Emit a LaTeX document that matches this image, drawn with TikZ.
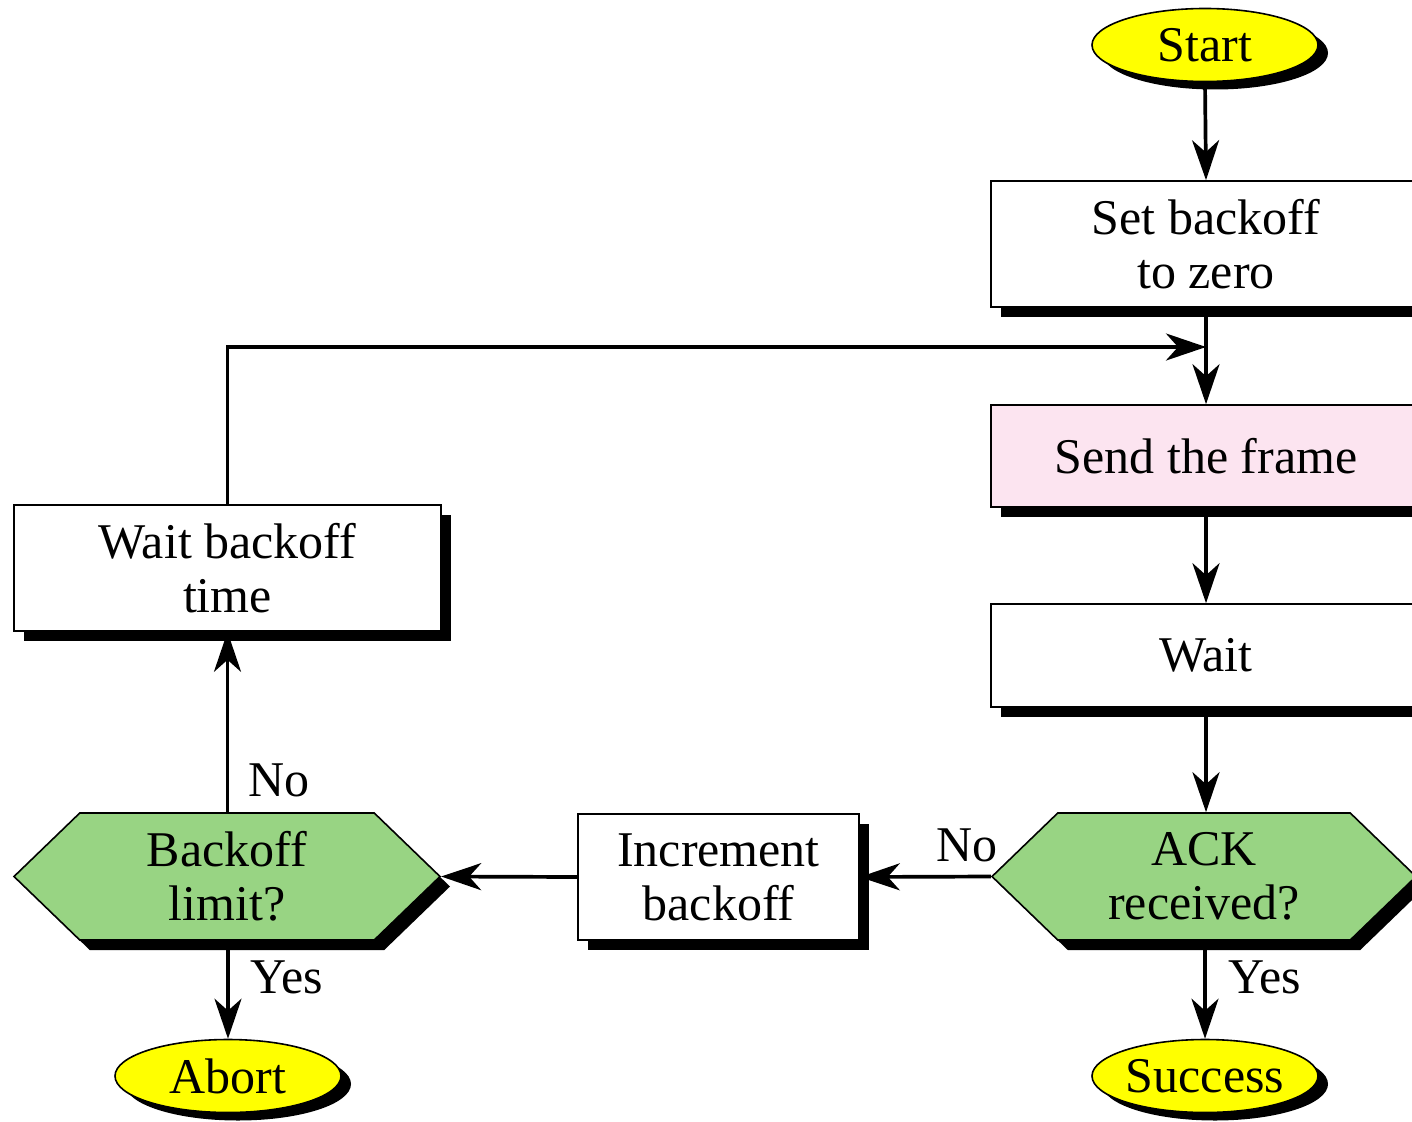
\documentclass[tikz,border=0pt]{standalone}
\usepackage{fontspec}
\setmainfont{Liberation Serif}
\usetikzlibrary{arrows.meta,shapes.geometric,shapes.symbols,shadows}
\definecolor{hexgreen}{RGB}{152,212,131}
\definecolor{pinkfill}{RGB}{252,228,240}
\definecolor{ovalyellow}{RGB}{255,255,0}
\begin{document}
\begin{tikzpicture}[x=1pt,y=-1pt,
  every node/.style={font=\fontsize{50}{54}\selectfont, align=center, inner sep=0pt},
  shad/.style={drop shadow={shadow xshift=10pt, shadow yshift=-10pt, fill=black, opacity=1}},
  oshad/.style={drop shadow={shadow xshift=10pt, shadow yshift=-8pt, fill=black, opacity=1}},
  procbox/.style={rectangle, draw=black, line width=1.6pt, fill=white, shad},
  terminal/.style={ellipse, draw=black, line width=1.6pt, fill=ovalyellow, minimum width=226pt, minimum height=73pt, oshad},
  decision/.style={signal, signal to=west and east, signal pointer angle=88, draw=black, line width=1.6pt, fill=hexgreen, minimum height=127pt, shad},
  conn/.style={line width=3.7pt, -{Stealth[length=40pt, width=27pt, inset=12pt]}},
  lbl/.style={font=\fontsize{50}{54}\selectfont}
]
\clip (0,0) rectangle (1412,1121);
\fill[white] (0,0) rectangle (1412,1121);

\node[terminal] (start) at (1205,45) {Start};
\node[procbox, minimum width=430pt, minimum height=126pt] (setb) at (1206,244) {Set backoff\\to zero};
\node[procbox, fill=pinkfill, minimum width=430pt, minimum height=102pt] (send) at (1206,456) {Send the frame};
\node[procbox, minimum width=430pt, minimum height=103pt] (wait) at (1206,655.5) {Wait};
\node[decision, minimum width=424pt] (ack) at (1204,876.5) {ACK\\received?};
\node[terminal] (succ) at (1205,1076) {Success};
\node[procbox, minimum width=281pt, minimum height=126pt] (inc) at (718.5,877) {Increment\\backoff};
\node[decision, minimum width=426pt] (blim) at (227,876.5) {Backoff\\limit?};
\node[terminal] (abort) at (228,1076) {Abort};
\node[procbox, minimum width=427pt, minimum height=126pt] (wbt) at (227.5,568) {Wait backoff\\time};
\coordinate (join) at (1206,347);

\draw[conn] (start.south) -- (setb.north);
\draw[conn] (setb.south) -- (send.north);
\draw[conn] (wbt.north) |- (join);
\draw[conn] (send.south) -- (wait.north);
\draw[conn] (wait.south) -- (wait.south |- ack.north);
\draw[conn] (ack.south -| succ.north) -- (succ.north);
\draw[conn] (ack.west) -- (inc.east);
\draw[conn] (inc.west) -- (blim.east);
\draw[conn] (blim.north -| wbt.south) -- (wbt.south);
\draw[conn] (blim.south -| abort.north) -- (abort.north);

\node[lbl, anchor=west] (lno1) at (248,780) {No};
\node[lbl, anchor=west] (lyes1) at (250,977) {Yes};
\node[lbl] (lno2) at (967,845) {No};
\node[lbl, anchor=west] (lyes2) at (1228,977) {Yes};
\end{tikzpicture}
\end{document}
